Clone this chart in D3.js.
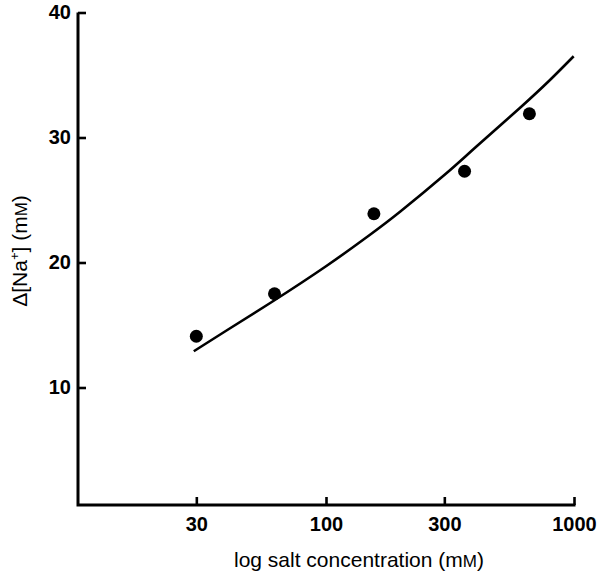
<!DOCTYPE html>
<html>
<head>
<meta charset="utf-8">
<script src="https://cdn.jsdelivr.net/npm/d3@7"></script>
<style>
  html, body { margin: 0; padding: 0; background: #fff; }
  svg { display: block; }
  text { font-family: "Liberation Sans", Arial, Helvetica, sans-serif; fill: #000; }
</style>
</head>
<body>
<svg id="chart" width="601" height="572"></svg>
<script>
// Measured sodium change against salt concentration
const saltConc = [30, 62, 156, 362, 661];
const deltaNa = [14.1, 17.5, 23.9, 27.3, 31.9];

// Fitted theoretical curve, sampled along its length
const curveConc = [29.3, 40, 60, 100, 150, 200, 300, 400, 600, 800, 997];
const curveVal = [12.9, 14.6, 16.8, 19.7, 22.2, 24.1, 27.0, 29.2, 32.3, 34.6, 36.5];

// Axis ticks
const xTicks = [30, 100, 300, 1000];
const xTickLabels = ["30", "100", "300", "1000"];
const yTicks = [10, 20, 30, 40];
const yTickLabels = ["10", "20", "30", "40"];

const svg = d3.select("#chart");

const x = d3.scaleLog().domain([10, 1000]).range([78, 574]);
const y = d3.scaleLinear().domain([0.6, 40]).range([505, 12.5]);

// Axes
const xAxis = d3.axisBottom(x)
  .tickValues(xTicks)
  .tickFormat((d, i) => xTickLabels[i])
  .tickSizeInner(-8)
  .tickSizeOuter(0)
  .tickPadding(12);

const yAxis = d3.axisLeft(y)
  .tickValues(yTicks)
  .tickFormat((d, i) => yTickLabels[i])
  .tickSizeInner(-8)
  .tickSizeOuter(0)
  .tickPadding(7);

const gx = svg.append("g")
  .attr("transform", `translate(0,${y.range()[0]})`)
  .call(xAxis);

const gy = svg.append("g")
  .attr("transform", `translate(${x.range()[0]},0)`)
  .call(yAxis);

[gx, gy].forEach(g => {
  g.select(".domain").remove();
  g.selectAll(".tick line").attr("stroke", "#000").attr("stroke-width", 2.6);
  g.selectAll(".tick text")
    .style("font-size", "20px")
    .style("font-weight", "bold")
    .attr("fill", "#000");
});

// L-shaped frame: left and bottom axis lines
svg.append("path")
  .attr("d", d3.line()([
    [x.range()[0], y.range()[1]],
    [x.range()[0], y.range()[0]],
    [x.range()[1] + 1.5, y.range()[0]]
  ]))
  .attr("fill", "none")
  .attr("stroke", "#000")
  .attr("stroke-width", 3)
  .attr("stroke-linejoin", "miter");

// Theoretical curve
const pts = curveConc.map((c, i) => [x(c), y(curveVal[i])]);
svg.append("path")
  .attr("d", d3.line().curve(d3.curveNatural)(pts))
  .attr("fill", "none")
  .attr("stroke", "#000")
  .attr("stroke-width", 2.6);

// Data points
svg.append("g")
  .selectAll("circle")
  .data(saltConc)
  .join("circle")
  .attr("cx", d => x(d))
  .attr("cy", (d, i) => y(deltaNa[i]))
  .attr("r", 6.5)
  .attr("fill", "#000");

// Axis titles
const xTitle = svg.append("text")
  .attr("x", 234)
  .attr("y", 567)
  .style("font-size", "21px");
xTitle.append("tspan").text("log salt concentration (m");
xTitle.append("tspan").style("font-size", "17px").text("M");
xTitle.append("tspan").text(")");

const yTitle = svg.append("text")
  .attr("transform", "translate(27,251) rotate(-90)")
  .attr("text-anchor", "middle")
  .style("font-size", "21px");
yTitle.append("tspan").text("\u0394[Na");
yTitle.append("tspan").attr("dy", -8).style("font-size", "13px").text("+");
yTitle.append("tspan").attr("dy", 8).text("] (m");
yTitle.append("tspan").style("font-size", "17px").text("M");
yTitle.append("tspan").text(")");
</script>
</body>
</html>
